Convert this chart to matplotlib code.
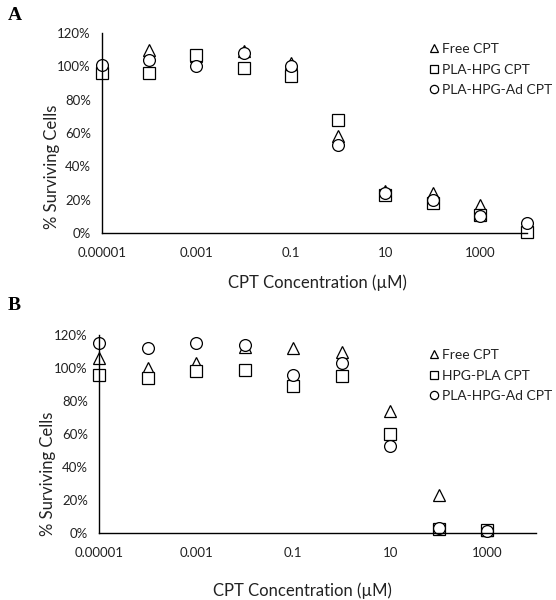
import matplotlib
matplotlib.use("Agg")
import matplotlib.pyplot as plt
from matplotlib.ticker import FixedLocator, FuncFormatter, NullLocator

plt.rcParams['font.family'] = ['Lato', 'DejaVu Sans']

conc_a = [1e-5, 1e-4, 1e-3, 1e-2, 1e-1, 1, 10, 100, 1000, 10000]
free_a = [100, 110, 106, 109, 102, 58, 25, 24, 17, 1]
plahpg_a = [96, 96, 107, 99, 94, 68, 23, 18, 11, 0.6]
ad_a = [101, 104, 100, 108, 100, 53, 24, 20, 10, 6]
labels_a = ["Free CPT", "PLA-HPG CPT", "PLA-HPG-Ad CPT"]

conc_b = [1e-5, 1e-4, 1e-3, 1e-2, 1e-1, 1, 10, 100, 1000]
free_b = [106, 100, 103, 113, 112, 110, 74, 23, 2]
hpgpla_b = [96, 94, 98, 99, 89, 95, 60, 2.6, 2]
ad_b = [115, 112, 115, 114, 96, 103, 53, 3, 1.5]
labels_b = ["Free CPT", "HPG-PLA CPT", "PLA-HPG-Ad CPT"]

xticks = [1e-5, 1e-3, 1e-1, 10, 1000]
xtick_labels = ["0.00001", "0.001", "0.1", "10", "1000"]
yticks = [0, 20, 40, 60, 80, 100, 120]

fig = plt.figure(figsize=(5.56, 6.0), dpi=100)

def style_axes(ax, conc, series, labels, ylabel_y, xlabel_xy, leg_anchor):
    markers = ['^', 's', 'o']
    for vals, m, lab in zip(series, markers, labels):
        ax.plot(conc, vals, linestyle='none', marker=m, markersize=8.5,
                markerfacecolor='white', markeredgecolor='black',
                markeredgewidth=0.9, label=lab, clip_on=False)
    ax.set_xscale('log')
    ax.set_xlim(1e-5, 1e4)
    ax.set_ylim(0, 120)
    ax.xaxis.set_major_locator(FixedLocator(xticks))
    ax.xaxis.set_major_formatter(FuncFormatter(lambda v, p: xtick_labels[xticks.index(v)] if v in xticks else ""))
    ax.xaxis.set_minor_locator(NullLocator())
    ax.set_yticks(yticks)
    ax.set_yticklabels([f"{t}%" for t in yticks])
    ax.tick_params(axis='both', length=0, labelsize=9.5, colors='#222222')
    ax.tick_params(axis='x', pad=10)
    ax.tick_params(axis='y', pad=8)
    for s in ['top', 'right']:
        ax.spines[s].set_visible(False)
    for s in ['left', 'bottom']:
        ax.spines[s].set_linewidth(1.0)
        ax.spines[s].set_color('black')
    ax.set_ylabel("% Surviving Cells", fontsize=12, color='#222222')
    ax.yaxis.set_label_coords(-0.098, ylabel_y)
    ax.set_xlabel("CPT Concentration (\u00b5M)", fontsize=12, color='#222222')
    ax.xaxis.set_label_coords(*xlabel_xy)
    leg = ax.legend(loc='upper left', bbox_to_anchor=leg_anchor,
                    bbox_transform=fig.transFigure, frameon=False,
                    fontsize=10, markerscale=0.7, handlelength=0.5,
                    handletextpad=0.3, labelspacing=0.62, borderpad=0)
    for t in leg.get_texts():
        t.set_color('#222222')

ax1 = fig.add_axes([102/556, 1-233/600, (527-102)/556, 200/600])
style_axes(ax1, conc_a, [free_a, plahpg_a, ad_a], labels_a,
           0.33, (0.508, -0.205), (424/556, 1-36/600))

ax2 = fig.add_axes([99/556, 1-533.3/600, (536-99)/556, 198.3/600])
style_axes(ax2, conc_b, [free_b, hpgpla_b, ad_b], labels_b,
           0.30, (0.466, -0.248), (424/556, 1-342/600))

fig.text(8/556, 1-15/600, "A", fontsize=14, fontweight='bold',
         family='Liberation Serif', va='center', ha='left')
fig.text(8/556, 1-306/600, "B", fontsize=14, fontweight='bold',
         family='Liberation Serif', va='center', ha='left')

fig.savefig("out.png", dpi=100)
